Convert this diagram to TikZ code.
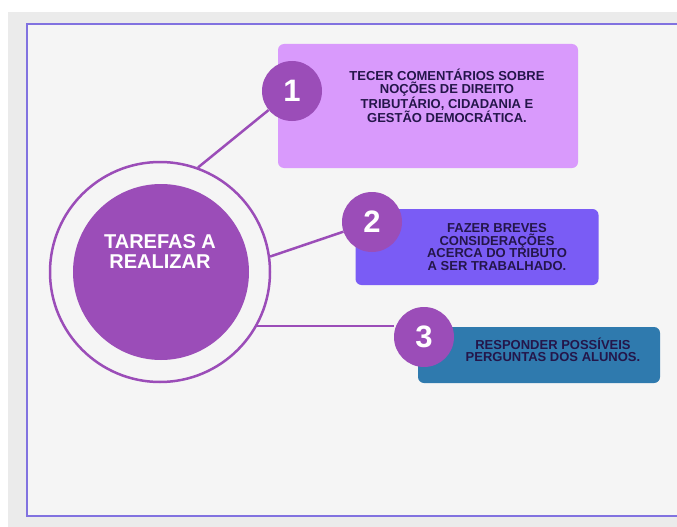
\documentclass[tikz,border=0pt]{standalone}
\usepackage{fontspec}
\setmainfont{Liberation Sans}
\usetikzlibrary{positioning}

\definecolor{pagegray}{HTML}{EBEBEB}
\definecolor{panel}{HTML}{F5F5F5}
\definecolor{framelin}{HTML}{8172E0}
\definecolor{grape}{HTML}{9B4DB8}
\definecolor{lilac}{HTML}{D99AFC}
\definecolor{violet}{HTML}{7A5CF5}
\definecolor{steel}{HTML}{2F7AAE}
\definecolor{ink}{HTML}{24164A}

\begin{document}
\begin{tikzpicture}[
    x=1pt, y=-1pt,
    card/.style  = {rectangle, rounded corners=6pt, inner sep=0pt},
    badge/.style = {
        circle, fill=grape, minimum size=60pt, inner sep=0pt,
        text=white, font=\bfseries\fontsize{31}{31}\selectfont
    },
    blurb/.style = {
        text=ink, align=center, inner sep=0pt,
        font=\bfseries\fontsize{13}{12.5}\selectfont
    },
    link/.style  = {grape, line width=2.5pt}
]

%% Page and frame
\useasboundingbox (0,0) rectangle (677,527);
\clip (0,0) rectangle (677,527);
\fill[white] (0,0) rectangle (677,527);
\fill[pagegray] (8,12) rectangle (677,527);
\filldraw[fill=panel, draw=framelin, line width=2.8pt] (27,24) rectangle (700,516);

%% Centre circle
\node[circle, draw=grape, line width=2.5pt, minimum size=220pt] (ring) at (160,272) {};
\node[circle, fill=grape, minimum size=176pt] (core) at (161,272) {};
\node[text=white, align=center, inner sep=0pt,
      font=\bfseries\fontsize{20}{20}\selectfont] (title) at (160,252) {TAREFAS A\\REALIZAR};

%% Task cards
\node[card, fill=lilac,  minimum width=300pt, minimum height=124pt] (box1) at (428,106) {};
\node[card, fill=violet, minimum width=243pt, minimum height=76pt]  (box2) at (477,247) {};
\node[card, fill=steel,  minimum width=242pt, minimum height=56pt]  (box3) at (539,355) {};

\node[blurb] (txt1) at (447,96)  {TECER COMENTÁRIOS SOBRE\\NOÇÕES DE DIREITO\\TRIBUTÁRIO, CIDADANIA E\\GESTÃO DEMOCRÁTICA.};
\node[blurb] (txt2) at (497,247) {FAZER BREVES\\CONSIDERAÇÕES\\ACERCA DO TRIBUTO\\A SER TRABALHADO.};
\node[blurb] (txt3) at (553,350) {RESPONDER POSSÍVEIS\\PERGUNTAS DOS ALUNOS.};

%% Number badges
\node[badge] (n1) at (292,91)  {1};
\node[badge] (n2) at (372,222) {2};
\node[badge] (n3) at (424,337) {3};

%% Links
\draw[link] (ring.70) -- (n1);
\draw[link] (ring.8)  -- (n2);
\draw[link] (ring.-29) -- (ring.-29 -| n3.west);

\end{tikzpicture}
\end{document}
